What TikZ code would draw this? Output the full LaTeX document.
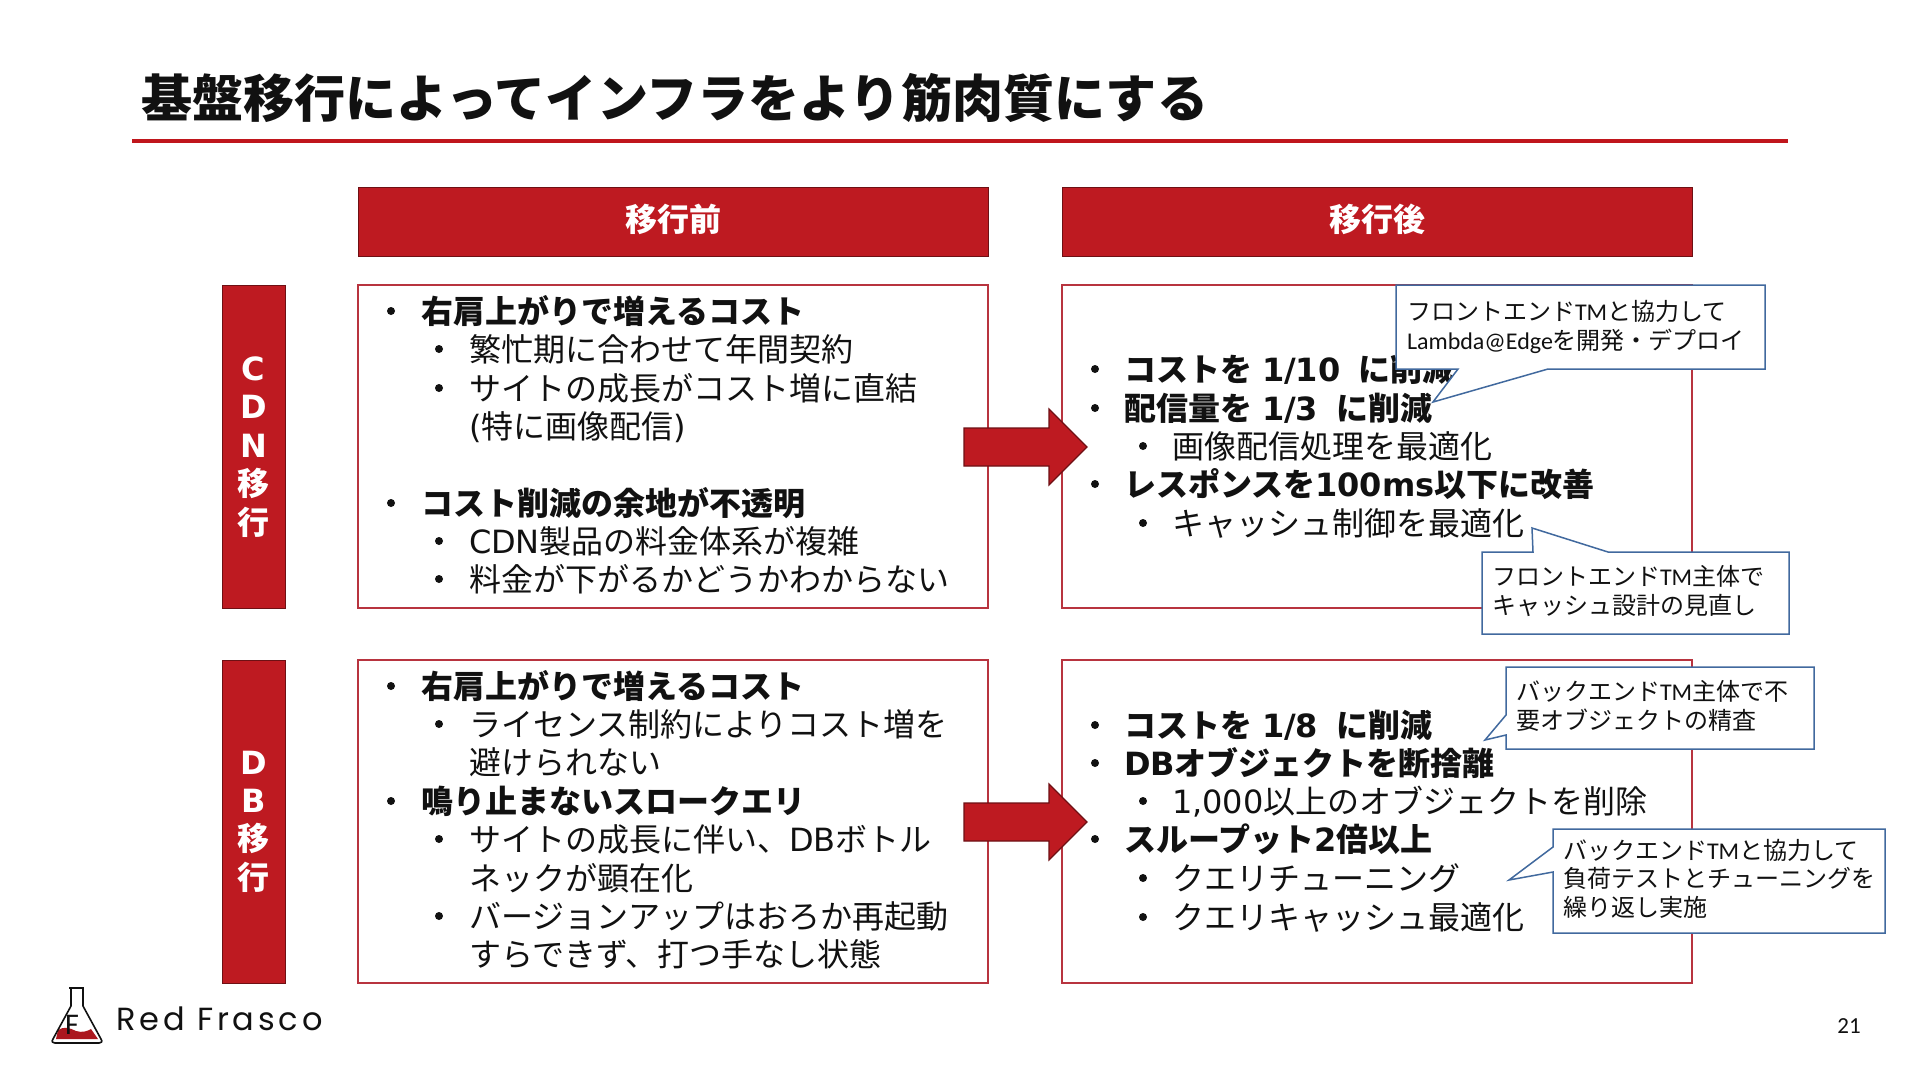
\documentclass[tikz,border=0pt]{standalone}
\usepackage{fontspec}
\setmainfont{Noto Sans CJK JP}
\newfontfamily\latfont{Carlito}
\newfontfamily\verfont{DejaVu Sans}
\newfontfamily\logofont[LetterSpace=12]{Poppins}
\definecolor{rf}{HTML}{BE1A21}
\definecolor{rfdark}{HTML}{6E1014}
\definecolor{cellline}{HTML}{B8343F}
\definecolor{rule}{HTML}{C0161C}
\definecolor{callline}{HTML}{41699E}
\definecolor{ink}{HTML}{111111}
\newcount\tcount
\newcommand{\bodysize}{\fontsize{32}{38}\selectfont}
\newcommand{\callsize}{\fontsize{24}{28.5}\selectfont}
\newcommand{\gap}{\hspace{10pt}}
\newcommand{\gapb}{\hspace{18pt}}
% bullet x, text x, y centre, text
\newcommand{\bl}[4]{%
  \global\advance\tcount by 1
  \node[dot] (bu\the\tcount) at (#1,#3) {};
  \node[bodytext] (tx\the\tcount) at (#2,#3+12.5) {\bodysize #4};}
\newcommand{\cont}[3]{%
  \global\advance\tcount by 1
  \node[bodytext] (tx\the\tcount) at (#1,#2+12.5) {\bodysize #3};}
\newcommand{\sidech}[3]{%
  \global\advance\tcount by 1
  \node[sidetext] (si\the\tcount) at (#1,#2) {#3};}
\tikzset{
  headbox/.style={draw=rfdark,fill=rf,line width=1pt,minimum width=630pt,minimum height=69pt,inner sep=0pt,outer sep=0pt},
  headtext/.style={inner sep=0pt,outer sep=0pt,text=white,font=\bfseries\fontsize{32}{38}\selectfont},
  sidebox/.style={draw=rfdark,fill=rf,line width=1pt,minimum width=63pt,minimum height=323pt,inner sep=0pt,outer sep=0pt},
  cell/.style={draw=cellline,fill=white,line width=1.3pt,minimum width=630pt,minimum height=323pt,inner sep=0pt,outer sep=0pt},
  bigarrow/.style={draw=rfdark,fill=rf,line width=1.2pt,line join=miter},
  callout/.style={draw=callline,fill=white,line width=1.5pt,line join=miter},
  bodytext/.style={anchor=base west,inner sep=0pt,outer sep=0pt,text=ink},
  dot/.style={circle,fill=ink,inner sep=0pt,outer sep=0pt,minimum size=8pt},
  sidetext/.style={anchor=center,inner sep=0pt,outer sep=0pt,text=white,font=\bfseries\fontsize{32}{38}\selectfont},
  calltext/.style={anchor=base west,inner sep=0pt,outer sep=0pt,text=ink,align=left,font=\callsize},
}
\begin{document}
\begin{tikzpicture}[x=1pt,y=-1pt]
\useasboundingbox (0,0) rectangle (1920,1080);
\fill[white] (0,0) rectangle (1920,1080);
% title
\node[anchor=base west,inner sep=0pt,text=ink] (title) at (141,117) {\bfseries\fontsize{51.1}{60}\selectfont 基盤移行によってインフラをより筋肉質にする};
\coordinate (ruleL) at (132,141);
\coordinate (ruleR) at (1788,141);
\draw[rule,line width=3.5pt] (ruleL) -- (ruleR);
% headers
\node[headbox] (hb) at (673,221.5) {};
\node[headbox] (ha) at (1377,221.5) {};
\node[headtext] (hbt) at (673,219) {移行前};
\node[headtext] (hat) at (1377,219) {移行後};
% side
\node[sidebox] (s1) at (253.5,446.5) {};
\node[sidebox] (s2) at (253.5,821.5) {};
% cells
\node[cell] (c11) at (673,446.5) {};
\node[cell] (c12) at (1377,446.5) {};
\node[cell] (c21) at (673,821.5) {};
\node[cell] (c22) at (1377,821.5) {};
% side labels
\sidech{253.5}{369}{\verfont\bfseries C}
\sidech{253.5}{407}{\verfont\bfseries D}
\sidech{253.5}{446}{\verfont\bfseries N}
\sidech{253.5}{483}{移}
\sidech{253.5}{522}{行}
\sidech{253.5}{763}{\verfont\bfseries D}
\sidech{253.5}{801}{\verfont\bfseries B}
\sidech{253.5}{838}{移}
\sidech{253.5}{877}{行}
% arrows
\draw[bigarrow] (964,428)--(1049,428)--(1049,409)--(1087,447)--(1049,485)--(1049,466)--(964,466)--cycle;
\draw[bigarrow] (964,803)--(1049,803)--(1049,784)--(1087,822)--(1049,860)--(1049,841)--(964,841)--cycle;
% left top
\bl{391}{421}{311}{\bfseries 右肩上がりで増えるコスト}
\bl{439}{469}{349}{繁忙期に合わせて年間契約}
\bl{439}{469}{388}{サイトの成長がコスト増に直結}
\cont{469}{426}{{\verfont(}特に画像配信{\verfont)}}
\bl{391}{421}{503}{\bfseries コスト削減の余地が不透明}
\bl{439}{469}{541}{{\verfont CDN}製品の料金体系が複雑}
\bl{439}{469}{579}{料金が下がるかどうかわからない}
% right top
\bl{1095}{1124}{369}{\bfseries コストを\gap{\verfont 1/10}\gapb に削減}
\bl{1095}{1124}{408}{\bfseries 配信量を\gap{\verfont 1/3}\gapb に削減}
\bl{1143}{1172}{446}{画像配信処理を最適化}
\bl{1095}{1124}{484}{\bfseries レスポンスを{\verfont 100ms}以下に改善}
\bl{1143}{1172}{523}{キャッシュ制御を最適化}
% left bottom
\bl{391}{421}{686}{\bfseries 右肩上がりで増えるコスト}
\bl{439}{469}{724}{ライセンス制約によりコスト増を}
\cont{469}{762}{避けられない}
\bl{391}{421}{801}{\bfseries 鳴り止まないスロークエリ}
\bl{439}{469}{839}{サイトの成長に伴い、{\verfont DB}ボトル}
\cont{469}{878}{ネックが顕在化}
\bl{439}{469}{916}{バージョンアップはおろか再起動}
\cont{469}{954}{すらできず、打つ手なし状態}
% right bottom
\bl{1095}{1124}{725}{\bfseries コストを\gap{\verfont 1/8}\gapb に削減}
\bl{1095}{1124}{763}{\bfseries {\verfont DB}オブジェクトを断捨離}
\bl{1143}{1172}{801}{{\verfont 1,000}以上のオブジェクトを削除}
\bl{1095}{1124}{839}{\bfseries スループット{\verfont 2}倍以上}
\bl{1143}{1172}{878}{クエリチューニング}
\bl{1143}{1172}{917}{クエリキャッシュ最適化}
% callouts
\draw[callout] (1396,285)--(1765,285)--(1765,369)--(1548,369)--(1433,402)--(1458,369)--(1396,369)--cycle;
\node[calltext] (ct1) at (1407,349) {フロントエンド{\latfont TM}と協力して\\{\latfont Lambda@Edge}を開発・デプロイ};
\draw[callout] (1482,552)--(1533,552)--(1532,528)--(1608,552)--(1789,552)--(1789,634)--(1482,634)--cycle;
\node[calltext] (ct2) at (1492,614) {フロントエンド{\latfont TM}主体で\\キャッシュ設計の見直し};
\draw[callout] (1506,667)--(1814,667)--(1814,749)--(1506,749)--(1506,735)--(1485,740)--(1506,715)--cycle;
\node[calltext] (ct3) at (1516,729) {バックエンド{\latfont TM}主体で不\\要オブジェクトの精査};
\draw[callout] (1553,829)--(1885,829)--(1885,933)--(1553,933)--(1553,872)--(1509,880)--(1553,847)--cycle;
\node[calltext] (ct4) at (1563,916) {バックエンド{\latfont TM}と協力して\\負荷テストとチューニングを\\繰り返し実施};
% logo
\fill[rf!90!black] (58,1030) .. controls (64,1026) and (70,1028) .. (76,1031) .. controls (82,1033) and (88,1031) .. (91,1029) -- (98,1039) -- (56,1039) -- cycle;
\draw[ink,line width=1.6pt,line join=round] (71,989) -- (71,1006) -- (53,1039) .. controls (51,1042) and (53,1043) .. (55,1043) -- (99,1043) .. controls (101,1043) and (103,1042) .. (101,1039) -- (83,1006) -- (83,989);
\draw[ink,line width=1.6pt] (69,988) -- (84,988);
\node[anchor=base,inner sep=0pt,text=ink] (flaskf) at (72,1034) {\latfont\fontsize{30}{34}\selectfont F};
\node[anchor=base west,inner sep=0pt,text=ink] (brand) at (116,1030) {\logofont\fontsize{32}{38}\selectfont Red Frasco};
% page number
\node[inner sep=0pt,text=ink] (pg) at (1849,1026) {\latfont\fontsize{23}{27}\selectfont 21};
\end{tikzpicture}
\end{document}
